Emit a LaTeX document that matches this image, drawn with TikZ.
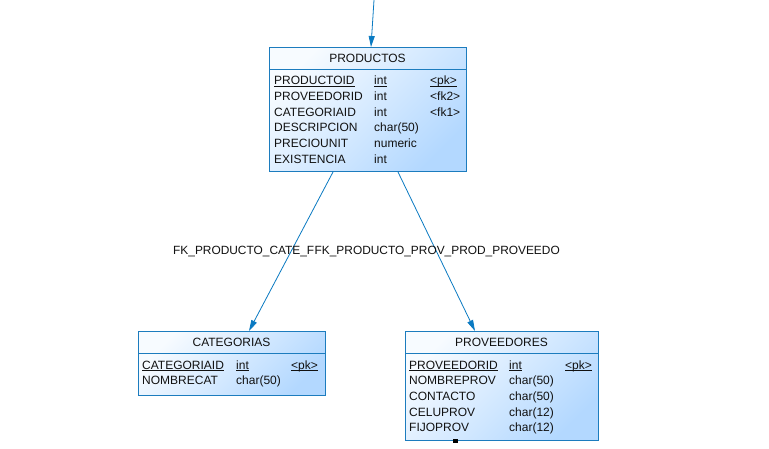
\documentclass[tikz,border=0pt]{standalone}
\usepackage{fontspec}
\setmainfont{Liberation Sans}
\usetikzlibrary{arrows.meta,calc}
\definecolor{edgeblue}{HTML}{1C7CBE}
\definecolor{lineblue}{HTML}{0A7AC2}
\definecolor{fillA}{HTML}{F7FBFF}
\definecolor{fillB}{HTML}{B3D8FF}
\definecolor{txt}{HTML}{111111}
\tikzset{
  tablebox/.style={draw=edgeblue, line width=1pt, top color=fillA, bottom color=fillB, shading angle=45, anchor=north west, inner sep=0pt},
  fkline/.style={draw=lineblue, line width=0.8pt, -{Triangle[length=11pt,width=6pt]}},
  cell/.style={anchor=base west, inner sep=0pt, text=txt, font=\fontsize{12}{14}\selectfont},
  title/.style={anchor=base, inner sep=0pt, text=txt, font=\fontsize{12}{14}\selectfont},
  sep/.style={draw=edgeblue, line width=0.8pt},
  lbl/.style={anchor=base west, inner sep=0pt, text=txt, font=\fontsize{11.9}{14}\selectfont}
}
\newcommand{\ul}[1]{\setbox0\hbox{#1}\rlap{\rule[-2pt]{\wd0}{0.7pt}}\box0}
\begin{document}
\begin{tikzpicture}[x=1pt,y=-1pt]
\useasboundingbox (0,0) rectangle (769,449);
\fill[white] (0,0) rectangle (769,449);
% PRODUCTOS
\node[tablebox, minimum width=197pt, minimum height=124pt] (prod) at (269,47) {};
\draw[sep] (269,69) -- (466,69);
\node[title] (prodt) at (367.5,62.5) {PRODUCTOS};
\node[cell] (p1a) at (274,84.5) {\ul{PRODUCTOID}};
\node[cell] (p1b) at (374,84.5) {\ul{int}};
\node[cell] (p1c) at (430,84.5) {\ul{<pk>}};
\node[cell] (p2a) at (274,100.3) {PROVEEDORID};
\node[cell] (p2b) at (374,100.3) {int};
\node[cell] (p2c) at (430,100.3) {<fk2>};
\node[cell] (p3a) at (274,116.1) {CATEGORIAID};
\node[cell] (p3b) at (374,116.1) {int};
\node[cell] (p3c) at (430,116.1) {<fk1>};
\node[cell] (p4a) at (274,131.9) {DESCRIPCION};
\node[cell] (p4b) at (374,131.9) {char(50)};
\node[cell] (p5a) at (274,147.7) {PRECIOUNIT};
\node[cell] (p5b) at (374,147.7) {numeric};
\node[cell] (p6a) at (274,163.5) {EXISTENCIA};
\node[cell] (p6b) at (374,163.5) {int};
% CATEGORIAS
\node[tablebox, minimum width=187pt, minimum height=64pt] (cat) at (138,331) {};
\draw[sep] (138,353) -- (325,353);
\node[title] (catt) at (231.5,346.5) {CATEGORIAS};
\node[cell] (c1a) at (142,369) {\ul{CATEGORIAID}};
\node[cell] (c1b) at (236,369) {\ul{int}};
\node[cell] (c1c) at (291,369) {\ul{<pk>}};
\node[cell] (c2a) at (142,384.5) {NOMBRECAT};
\node[cell] (c2b) at (236,384.5) {char(50)};
% PROVEEDORES
\node[tablebox, minimum width=193pt, minimum height=109pt] (prov) at (405,331) {};
\draw[sep] (405,353) -- (598,353);
\node[title] (provt) at (501.5,346.5) {PROVEEDORES};
\node[cell] (v1a) at (409,369) {\ul{PROVEEDORID}};
\node[cell] (v1b) at (509,369) {\ul{int}};
\node[cell] (v1c) at (565,369) {\ul{<pk>}};
\node[cell] (v2a) at (409,384.7) {NOMBREPROV};
\node[cell] (v2b) at (509,384.7) {char(50)};
\node[cell] (v3a) at (409,400.4) {CONTACTO};
\node[cell] (v3b) at (509,400.4) {char(50)};
\node[cell] (v4a) at (409,416.1) {CELUPROV};
\node[cell] (v4b) at (509,416.1) {char(12)};
\node[cell] (v5a) at (409,431.8) {FIJOPROV};
\node[cell] (v5b) at (509,431.8) {char(12)};
\fill[black] (453,439) rectangle (458,443);
% connectors
\coordinate (topin) at (374,0);
\coordinate (ptop) at ($(prod.north west)+(102,0)$);
\coordinate (pbl) at ($(prod.south west)+(64,0)$);
\coordinate (pbr) at ($(prod.south west)+(129,0)$);
\coordinate (ctop) at ($(cat.north west)+(111,0)$);
\coordinate (vtop) at ($(prov.north west)+(70,0)$);
\draw[fkline] (topin) -- (ptop);
\draw[fkline] (pbl) -- (ctop);
\draw[fkline] (pbr) -- (vtop);
\node[lbl] (l1) at (173,254.5) {FK\_PRODUCTO\_CATE\_F};
\node[lbl, anchor=base west] (l2) at (l1.base east) {FK\_PRODUCTO\_PROV\_PROD\_PROVEEDO};
\end{tikzpicture}
\end{document}
